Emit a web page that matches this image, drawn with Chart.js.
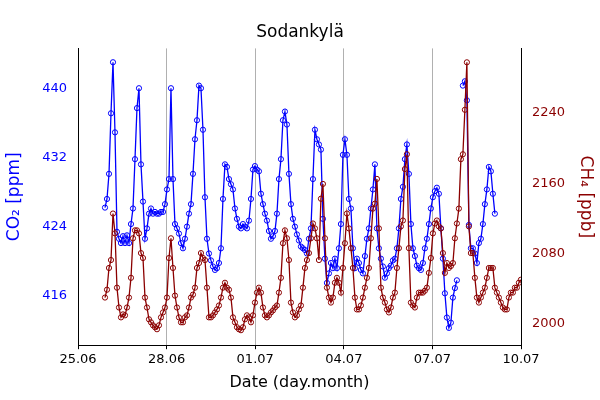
<!DOCTYPE html>
<html>
<head>
<meta charset="utf-8">
<script src="https://cdn.jsdelivr.net/npm/chart.js@4/dist/chart.umd.min.js"></script>
<style>
  html, body { margin: 0; padding: 0; background: #fff; }
  #wrap { width: 600px; height: 400px; }
</style>
</head>
<body>
<div id="wrap"><canvas id="c"></canvas></div>
<script>
'use strict';

// sampling: days since 25.06 00:00, one sample every ~1.6 h
const startDay = 0.914;
const stepDays = 0.0677;
const tickLabels = ['25.06', '28.06', '01.07', '04.07', '07.07', '10.07'];

// CO2 [ppm], null = no data
const co2 = [
  426.2, 427.2, 430.1, 437.1, 443.0, 434.9, 423.4, 422.6, 422.1, 422.9, 422.1, 423.0, 422.1, 424.3, 426.1, 431.8,
  437.7, 440.0, 431.2, 426.9, 422.6, 423.8, 425.5, 426.1, 425.5, 425.7, 425.5, 425.5, 425.7, 425.7, 426.6, 428.3,
  429.5, 440.0, 429.5, 424.3, 423.8, 423.2, 422.1, 421.5, 422.6, 424.0, 425.5, 426.6, 430.1, 434.1, 436.3, 440.3,
  440.0, 435.2, 427.4, 422.6, 420.9, 420.1, 419.4, 419.0, 419.2, 419.8, 421.5, 427.2, 431.2, 430.9, 429.5, 428.9,
  428.3, 426.1, 424.9, 424.0, 423.8, 424.3, 424.0, 423.8, 424.7, 427.2, 430.6, 431.0, 430.6, 430.4, 427.8, 426.6,
  425.5, 424.7, 423.5, 422.6, 422.9, 423.5, 425.5, 429.5, 431.8, 436.3, 437.3, 435.8, 430.1, 426.6, 424.9, 424.0,
  423.1, 422.4, 421.7, 421.5, 421.3, 420.9, 422.6, 423.8, 429.5, 435.2, 434.1, 433.5, 432.9, 424.9, 420.3, 417.5,
  418.6, 419.8, 419.2, 420.3, 419.2, 421.5, 424.3, 432.3, 434.1, 432.3, 427.2, 426.1, 421.5, 419.2, 420.3, 419.8,
  419.0, 418.6, 420.6, 422.6, 423.8, 426.1, 428.3, 431.2, 423.8, 421.5, 420.3, 419.4, 418.1, 418.6, 419.2, 419.5,
  420.1, 420.3, 421.5, 423.8, 427.2, 428.6, 431.8, 433.5, 430.1, 424.3, 421.5, 420.6, 419.5, 419.2, 419.0, 419.8,
  421.5, 422.6, 424.3, 426.1, 427.4, 428.1, 428.5, 427.8, 423.8, 420.3, 416.3, 413.5, 412.3, 412.9, 415.8, 416.9,
  417.8, null, null, 440.3, 440.8, 438.6, 424.2, 421.5, 421.5, 420.9, 419.8, 422.1, 422.6, 424.3, 426.6, 428.3,
  430.9, 430.4, 427.8, 425.5, null, null, null, null, null, null, null, null, null, null, null, null, null
];

// CH4 [ppb]
const ch4 = [
  2030.1, 2039.0, 2063.7, 2072.7, 2125.5, 2103.0, 2041.3, 2018.8, 2007.6, 2011.0, 2009.9, 2018.8, 2030.1, 2052.5, 2097.4, 2106.4,
  2106.4, 2103.0, 2080.6, 2075.0, 2030.1, 2018.8, 2005.4, 2002.0, 1998.6, 1996.4, 1994.1, 1998.6, 2007.6, 2013.2, 2018.8, 2030.1,
  2075.0, 2097.4, 2063.7, 2032.3, 2018.8, 2007.6, 2002.0, 2002.0, 2007.6, 2009.9, 2018.8, 2030.1, 2033.4, 2041.3, 2063.7, 2069.3,
  2080.6, 2075.0, 2072.7, 2041.3, 2007.6, 2007.6, 2009.9, 2013.2, 2016.6, 2021.1, 2030.1, 2041.3, 2046.9, 2041.3, 2039.0, 2030.1,
  2007.6, 2002.0, 1996.4, 1994.1, 1993.0, 1996.4, 2005.4, 2009.9, 2007.6, 2002.0, 2009.9, 2024.4, 2035.7, 2041.3, 2035.7, 2018.8,
  2009.9, 2007.6, 2009.9, 2013.2, 2015.5, 2018.8, 2021.1, 2035.7, 2052.5, 2091.8, 2106.4, 2097.4, 2072.7, 2024.4, 2013.2, 2007.6,
  2009.9, 2016.6, 2021.1, 2041.3, 2063.7, 2072.7, 2080.6, 2097.4, 2114.2, 2108.6, 2097.4, 2072.7, 2142.3, 2159.1, 2097.4, 2041.3,
  2030.1, 2024.4, 2030.1, 2046.9, 2052.5, 2046.9, 2035.7, 2063.7, 2091.8, 2125.5, 2108.6, 2086.2, 2063.7, 2030.1, 2016.6, 2016.6,
  2021.1, 2030.1, 2041.3, 2052.5, 2063.7, 2097.4, 2131.1, 2136.7, 2164.8, 2108.6, 2041.3, 2030.1, 2024.4, 2016.6, 2013.2, 2018.8,
  2030.1, 2035.7, 2063.7, 2086.2, 2110.9, 2117.6, 2176.0, 2192.8, 2086.2, 2024.4, 2021.1, 2018.8, 2030.1, 2035.7, 2035.7, 2035.7,
  2037.9, 2041.3, 2058.1, 2075.0, 2103.0, 2114.2, 2117.6, 2110.9, 2108.6, 2080.6, 2058.1, 2069.3, 2063.7, 2065.9, 2069.3, 2097.4,
  2114.2, 2131.1, 2187.2, 2192.8, 2243.3, 2297.2, 2110.9, 2080.6, 2080.6, 2052.5, 2030.1, 2024.4, 2030.1, 2035.7, 2041.3, 2052.5,
  2063.7, 2063.7, 2063.7, 2041.3, 2035.7, 2030.1, 2024.4, 2018.8, 2016.6, 2016.6, 2030.1, 2035.7, 2035.7, 2041.3, 2041.3, 2046.9,
  2050.3
];

const toPoints = vals => vals.map((v, i) => ({ x: startDay + i * stepDays, y: v }));

const co2Color = '#0000ff';
const ch4Color = '#8b0000';

new Chart(document.getElementById('c'), {
  type: 'line',
  data: {
    datasets: [
      {
        label: 'CH4', data: toPoints(ch4), yAxisID: 'y2',
        borderColor: ch4Color, backgroundColor: 'rgba(0,0,0,0)',
        borderWidth: 1.3, pointRadius: 2.6, pointBorderWidth: 1, pointBackgroundColor: 'rgba(0,0,0,0)',
        tension: 0
      },
      {
        label: 'CO2', data: toPoints(co2), yAxisID: 'y',
        borderColor: co2Color, backgroundColor: 'rgba(0,0,0,0)',
        borderWidth: 1.3, pointRadius: 2.6, pointBorderWidth: 1, pointBackgroundColor: 'rgba(0,0,0,0)',
        tension: 0, spanGaps: false
      }
    ]
  },
  options: {
    responsive: true, maintainAspectRatio: false, animation: false,
    layout: { padding: { top: 0, bottom: 4, left: 0, right: 0 } },
    plugins: {
      legend: { display: false }, tooltip: { enabled: false },
      title: { display: true, text: 'Sodankylä', color: '#000', font: { family: 'DejaVu Sans', size: 17, weight: 'normal' }, padding: { top: 22, bottom: 6 } }
    },
    scales: {
      x: {
        type: 'linear', min: 0, max: 15,
        ticks: { stepSize: 3, color: '#000', font: { family: 'DejaVu Sans', size: 13 },
          callback: v => tickLabels[Math.round(v / 3)] },
        grid: { color: '#b0b0b0', drawTicks: true, tickColor: '#000', tickLength: 4 },
        border: { color: '#000' },
        title: { display: true, text: 'Date (day.month)', color: '#000', font: { family: 'DejaVu Sans', size: 16 }, padding: { top: 2 } }
      },
      y: {
        position: 'left', min: 410.3, max: 444.6,
        afterFit: s => { s.width = 78; },
        afterBuildTicks: s => { s.ticks = [416, 424, 432, 440].map(v => ({ value: v })); },
        ticks: { color: co2Color, font: { family: 'DejaVu Sans', size: 13 }, callback: v => String(v) },
        grid: { display: false, drawTicks: true },
        border: { color: '#000' },
        title: { display: true, text: 'CO₂ [ppm]', color: co2Color, font: { family: 'DejaVu Sans', size: 17 } }
      },
      y2: {
        position: 'right', min: 1976, max: 2313,
        afterFit: s => { s.width = 79; },
        afterBuildTicks: s => { s.ticks = [2000, 2080, 2160, 2240].map(v => ({ value: v })); },
        ticks: { color: ch4Color, font: { family: 'DejaVu Sans', size: 13 }, callback: v => String(v) },
        grid: { display: false },
        border: { color: '#000' },
        title: { display: true, text: 'CH₄ [ppb]', color: ch4Color, font: { family: 'DejaVu Sans', size: 17 } }
      }
    }
  }
});
</script>
</body>
</html>
